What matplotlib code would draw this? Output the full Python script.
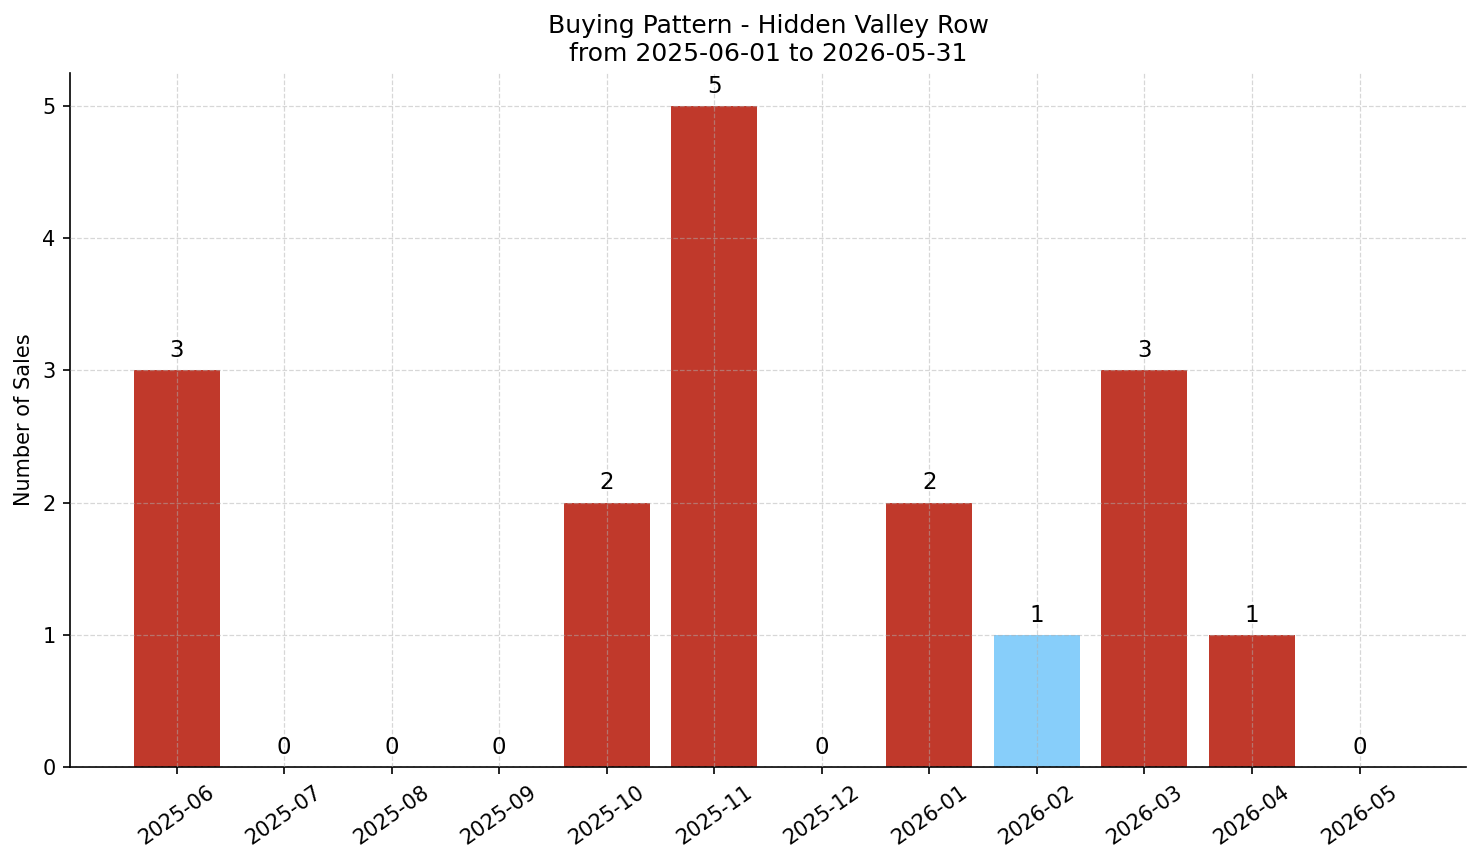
import matplotlib
matplotlib.use("Agg")
import matplotlib.pyplot as plt

months = ["2025-06", "2025-07", "2025-08", "2025-09", "2025-10", "2025-11",
          "2025-12", "2026-01", "2026-02", "2026-03", "2026-04", "2026-05"]
sales = [3, 0, 0, 0, 2, 5, 0, 2, 1, 3, 1, 0]
highlight_month = "2026-02"

base_color = "#c0392b"
hl_color = "#87cefa"
colors = [hl_color if m == highlight_month else base_color for m in months]

fig, ax = plt.subplots(figsize=(1481 / 150, 863 / 150), dpi=150)
fig.subplots_adjust(left=0.0473, right=0.9899, top=0.9154, bottom=0.1112)

x = list(range(len(months)))
bars = ax.bar(x, sales, color=colors, width=0.8)
for xi, v in zip(x, sales):
    ax.annotate(str(v), (xi, v), xytext=(0, 4), textcoords="offset points",
                ha="center", va="bottom", fontsize=11)

ax.set_xticks(x)
ax.set_xticklabels(months, rotation=35, ha="center")
ax.set_ylabel("Number of Sales")
ax.set_title("Buying Pattern - Hidden Valley Row\nfrom 2025-06-01 to 2026-05-31", fontsize=12)
ax.set_yticks(range(0, 6))
ax.grid(True, linestyle="--", color="#b0b0b0", alpha=0.5, linewidth=0.6)
ax.set_axisbelow(False)
ax.spines["top"].set_visible(False)
ax.spines["right"].set_visible(False)

fig.savefig("out.png", dpi=150)
